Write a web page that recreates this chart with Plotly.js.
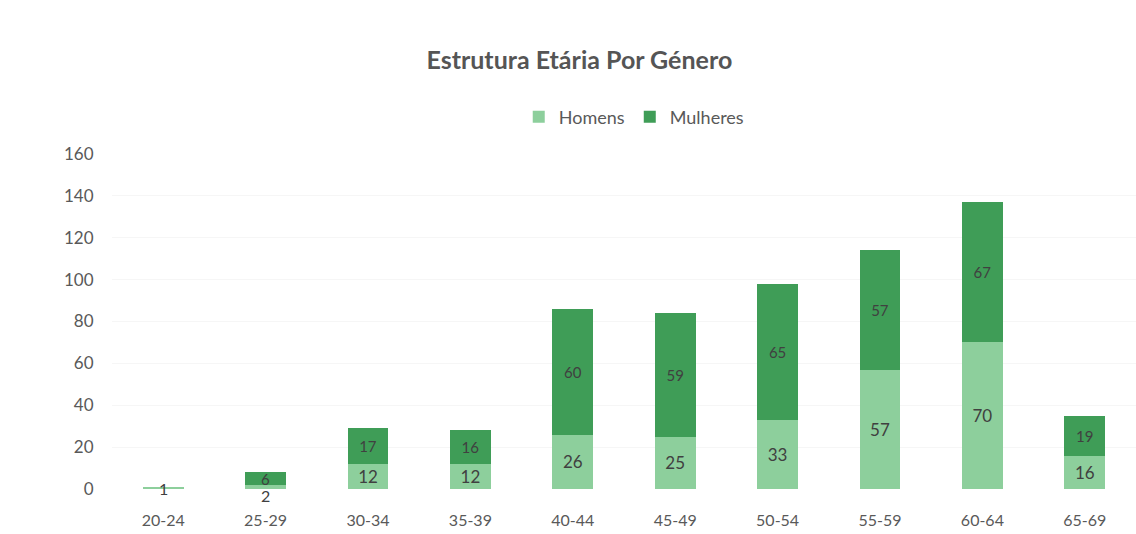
<!DOCTYPE html>
<html>
<head>
<meta charset="utf-8">
<script src="https://cdn.plot.ly/plotly-3.0.1.min.js"></script>
<style>html,body{margin:0;padding:0;background:#fff;}#chart{width:1136px;height:534px;}</style>
</head>
<body>
<div id="chart"></div>
<script>
const categories = ["20-24","25-29","30-34","35-39","40-44","45-49","50-54","55-59","60-64","65-69"];
const homens   = [1, 2, 12, 12, 26, 25, 33, 57, 70, 16];
const mulheres = [0, 6, 17, 16, 60, 59, 65, 57, 67, 19];

const SMALL = 5; // bars too thin for an inside label get a label just below
const homensLabels   = homens.map(v => v >= SMALL ? String(v) : "");
const mulheresLabels = mulheres.map(v => v > 0 ? String(v) : "");

const FONT = "Lato, 'Open Sans', sans-serif";
const common = {
  type: "bar",
  x: categories,
  textposition: "inside",
  insidetextanchor: "middle",
  textangle: 0,
  constraintext: "none",
  textfont: {family: FONT, size: 17, color: "#404040"},
  hoverinfo: "skip"
};
const traces = [
  Object.assign({}, common, {name: "Homens", y: homens, text: homensLabels,
    marker: {color: "#8dcf9c", line: {width: 0}}}),
  Object.assign({}, common, {name: "Mulheres", y: mulheres, text: mulheresLabels,
    textfont: {family: FONT, size: 15, color: "#404040"},
    marker: {color: "#3f9d57", line: {width: 0}}})
];
const smallAnnotations = [];
homens.forEach((v, i) => {
  if (v > 0 && v < SMALL) {
    smallAnnotations.push({x: categories[i], y: 0, xref: "x", yref: "y",
      text: String(v), showarrow: false, yanchor: "middle", yshift: (v > 1 ? -6 : 1),
      font: {family: FONT, size: 16, color: "#404040"}});
  }
});
const layout = {
  width: 1136, height: 534,
  paper_bgcolor: "#ffffff", plot_bgcolor: "#ffffff",
  barmode: "stack",
  bargap: 0.6,
  margin: {l: 112, r: 0, t: 154, b: 45},
  font: {family: FONT, color: "#595959"},
  title: {text: "<b>Estrutura Etária Por Género</b>", x: 0.51, xanchor: "center", y: 0.888, yanchor: "middle",
          font: {family: FONT, size: 25, color: "#555555"}},
  showlegend: true,
  legend: {orientation: "h", x: 0.51, xanchor: "center", y: 1.11, yanchor: "middle",
           itemwidth: 30, font: {family: FONT, size: 18, color: "#595959"}, traceorder: "normal"},
  annotations: smallAnnotations,
  xaxis: {type: "category", showgrid: false, zeroline: false, showline: false,
          ticks: "outside", ticklen: 17, tickcolor: "rgba(0,0,0,0)",
          tickfont: {family: FONT, size: 16, color: "#595959"}},
  yaxis: {range: [0, 160], dtick: 20, showgrid: true, gridcolor: "#f6f6f6", zeroline: false,
          showline: false, ticks: "outside", ticklen: 14, tickcolor: "rgba(0,0,0,0)",
          tickfont: {family: FONT, size: 17, color: "#595959"}}
};
Plotly.newPlot("chart", traces, layout, {displayModeBar: false, staticPlot: true});
</script>
</body>
</html>
